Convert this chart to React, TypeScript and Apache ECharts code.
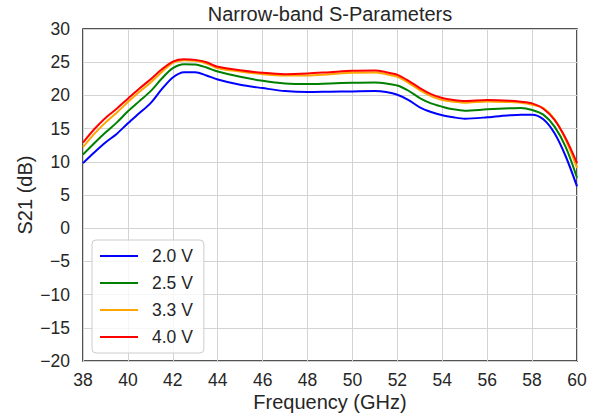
import React, { useEffect, useRef } from "react";
import * as echarts from "echarts";

// Frequency sample points (GHz)
const freqGHz = [
  38, 38.5, 39, 39.5, 40, 40.5, 41, 41.5, 42, 42.5, 43, 43.5, 44, 45, 46, 47, 48, 49, 50, 51, 51.5,
  52, 52.5, 53, 53.5, 54, 54.5, 55, 56, 57, 57.5, 58, 58.5, 59, 59.5, 60,
];

// S21 (dB) per bias voltage
const s21_2V0 = [
  9.8, 11.4, 12.9, 14.2, 15.8, 17.3, 18.8, 20.9, 22.7, 23.5, 23.5, 23.0, 22.4, 21.6, 21.1, 20.65,
  20.5, 20.55, 20.6, 20.65, 20.5, 20.1, 19.3, 18.2, 17.5, 17.0, 16.7, 16.5, 16.7, 17.0, 17.1, 17.1,
  16.4, 14.3, 10.8, 6.3,
];
const s21_2V5 = [
  11.1, 12.8, 14.4, 15.9, 17.6, 19.1, 20.6, 22.5, 24.1, 24.7, 24.65, 24.2, 23.6, 22.8, 22.2, 21.8,
  21.7, 21.8, 21.9, 21.95, 21.8, 21.5, 20.7, 19.6, 18.8, 18.3, 17.9, 17.7, 17.9, 18.05, 18.1, 17.8,
  17.1, 15.3, 12.2, 7.6,
];
const s21_3V3 = [
  12.2, 14.2, 15.9, 17.4, 19.0, 20.5, 21.9, 23.5, 24.9, 25.3, 25.2, 24.8, 24.1, 23.6, 23.2, 23.0,
  23.0, 23.2, 23.4, 23.45, 23.2, 22.8, 21.9, 20.8, 19.9, 19.3, 19.05, 18.9, 19.1, 19.0, 18.9, 18.6,
  18.1, 16.4, 13.3, 9.1,
];
const s21_4V0 = [
  12.9, 14.9, 16.6, 18.0, 19.5, 21.0, 22.4, 23.9, 25.1, 25.45, 25.35, 25.0, 24.3, 23.8, 23.4, 23.2,
  23.3, 23.5, 23.7, 23.75, 23.5, 23.1, 22.2, 21.1, 20.2, 19.6, 19.3, 19.15, 19.3, 19.2, 19.05, 18.8,
  18.0, 16.3, 13.5, 9.8,
];

const seriesNames = ["2.0 V", "2.5 V", "3.3 V", "4.0 V"];
const seriesColors = ["#0000ff", "#008000", "#ffa500", "#ff0000"];
const seriesValues = [s21_2V0, s21_2V5, s21_3V3, s21_4V0];

const FONT = "'Liberation Sans', Arial, Helvetica, sans-serif";
const INK = "#262626";

export default function App() {
  const ref = useRef<HTMLDivElement>(null);

  useEffect(() => {
    if (!ref.current) return;
    const chart = echarts.init(ref.current, undefined, { renderer: "svg" });

    chart.setOption({
      animation: false,
      backgroundColor: "#ffffff",
      textStyle: { fontFamily: FONT },
      title: {
        text: "Narrow-band S-Parameters",
        left: 330,
        textAlign: "center",
        top: 4,
        padding: 0,
        textStyle: { fontFamily: FONT, fontSize: 20, fontWeight: "normal", color: INK },
      },
      grid: {
        left: 83,
        right: 20,
        top: 29,
        bottom: 58,
        show: true,
        borderColor: "#1a1a1a",
        borderWidth: 1.5,
        backgroundColor: "transparent",
      },
      legend: {
        orient: "vertical",
        left: 92,
        top: 240,
        data: seriesNames.map((name) => ({ name, icon: "rect" })),
        itemWidth: 38,
        itemHeight: 2,
        itemGap: 9,
        padding: [7, 11, 7, 8],
        backgroundColor: "rgba(255,255,255,0.8)",
        borderColor: "#cccccc",
        borderWidth: 1,
        borderRadius: 4,
        textStyle: {
          fontFamily: FONT,
          fontSize: 17.5,
          lineHeight: 17,
          color: INK,
          padding: [0, 0, 0, 9],
        },
      },
      xAxis: {
        type: "value",
        min: 38,
        max: 60,
        interval: 2,
        name: "Frequency (GHz)",
        nameLocation: "middle",
        nameGap: 31,
        nameMoveOverlap: false,
        nameTextStyle: { fontFamily: FONT, fontSize: 20, color: INK },
        axisLine: { show: false },
        axisTick: { show: false },
        axisLabel: { fontFamily: FONT, fontSize: 17.5, color: INK, margin: 10 },
        splitLine: { show: true, lineStyle: { color: "#d3d3d3", width: 1 } },
      },
      yAxis: {
        type: "value",
        min: -20,
        max: 30,
        interval: 5,
        name: "S21 (dB)",
        nameLocation: "middle",
        nameGap: 48,
        nameMoveOverlap: false,
        nameTextStyle: { fontFamily: FONT, fontSize: 20, color: INK },
        axisLine: { show: false },
        axisTick: { show: false },
        axisLabel: {
          fontFamily: FONT,
          fontSize: 17.5,
          color: INK,
          margin: 13,
          formatter: (v: number) => (v < 0 ? "\u2212" + Math.abs(v) : String(v)),
        },
        splitLine: { show: true, lineStyle: { color: "#d3d3d3", width: 1 } },
      },
      series: seriesNames.map((name, i) => ({
        name,
        type: "line",
        symbol: "none",
        smooth: 0.3,
        color: seriesColors[i],
        lineStyle: { color: seriesColors[i], width: 2 },
        data: freqGHz.map((f, j) => [f, seriesValues[i][j]]),
      })),
    });

    return () => chart.dispose();
  }, []);

  return <div ref={ref} style={{ width: 597, height: 419, position: "absolute", left: 0, top: 0 }} />;
}
